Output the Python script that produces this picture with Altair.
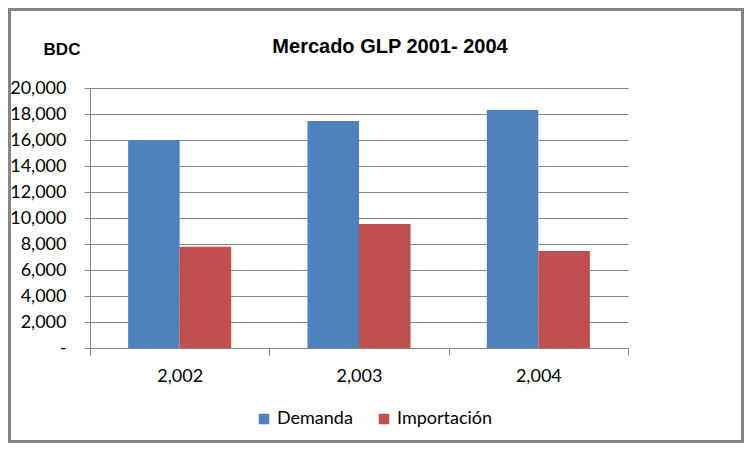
import altair as alt
import pandas as pd

years = ["2,002", "2,003", "2,004"]
demanda = [16000, 17460, 18300]
importacion = [7790, 9540, 7460]
series = ["Demanda", "Importación"]
colors = ["#4F81BD", "#C0504D"]

rows = []
for i, y in enumerate(years):
    rows.append({"year": y, "serie": series[0], "value": demanda[i]})
    rows.append({"year": y, "serie": series[1], "value": importacion[i]})
df = pd.DataFrame(rows)

W, H = 538, 260
FONT = "Lato"
TFONT = "Liberation Sans"

bars = alt.Chart(df).mark_bar().encode(
    x=alt.X("year:N", sort=years, title=None,
            scale=alt.Scale(paddingInner=0, paddingOuter=0),
            axis=alt.Axis(labelAngle=0, tickBand="extent", tickSize=7,
                          labelPadding=12, labelFont=FONT, labelFontSize=18,
                          labelColor="#000000", domainColor="#868686",
                          tickColor="#868686", grid=False)),
    xOffset=alt.XOffset("serie:N", sort=series,
                        scale=alt.Scale(paddingInner=0, paddingOuter=0.74)),
    y=alt.Y("value:Q", title=None,
            scale=alt.Scale(domain=[0, 20000]),
            axis=alt.Axis(values=list(range(0, 20001, 2000)), tickSize=6,
                          labelPadding=18, labelFont=FONT, labelFontSize=18,
                          labelColor="#000000", domainColor="#868686",
                          tickColor="#868686", gridColor="#868686",
                          labelExpr="datum.value == 0 ? '-' : format(datum.value, ',')")),
    color=alt.Color("serie:N", sort=series,
                    scale=alt.Scale(domain=series, range=colors),
                    legend=alt.Legend(title=None, orient="none", direction="horizontal",
                                      legendX=165, legendY=322, symbolType="square",
                                      symbolSize=110, symbolStrokeWidth=0,
                                      labelFont=FONT, labelFontSize=18,
                                      labelColor="#000000", columnPadding=22,
                                      labelOffset=4)),
)

title = alt.Chart(pd.DataFrame({"t": ["Mercado GLP 2001- 2004"]})).mark_text(
    font=TFONT, fontSize=20, fontWeight="bold", color="#000000",
    align="center", baseline="middle"
).encode(text="t:N", x=alt.value(300), y=alt.value(-41))

bdc = alt.Chart(pd.DataFrame({"t": ["BDC"]})).mark_text(
    font=TFONT, fontSize=17, fontWeight="bold", color="#000000",
    align="center", baseline="middle"
).encode(text="t:N", x=alt.value(-28), y=alt.value(-38))

frame = alt.Chart(pd.DataFrame({"a": [0]})).mark_rect(
    fill=None, stroke="#868686", strokeWidth=3, clip=False
).encode(x=alt.value(-80.5), x2=alt.value(652.5), y=alt.value(-78.5), y2=alt.value(353.5))

chart = alt.layer(bars, title, bdc, frame).properties(
    width=W, height=H,
    autosize=alt.AutoSizeParams(type="none"),
    padding={"left": 82, "top": 80, "right": 116, "bottom": 95},
    background="#FFFFFF",
).configure_view(stroke=None)

chart.save("out.html", embed_options={"renderer": "svg", "actions": False})
